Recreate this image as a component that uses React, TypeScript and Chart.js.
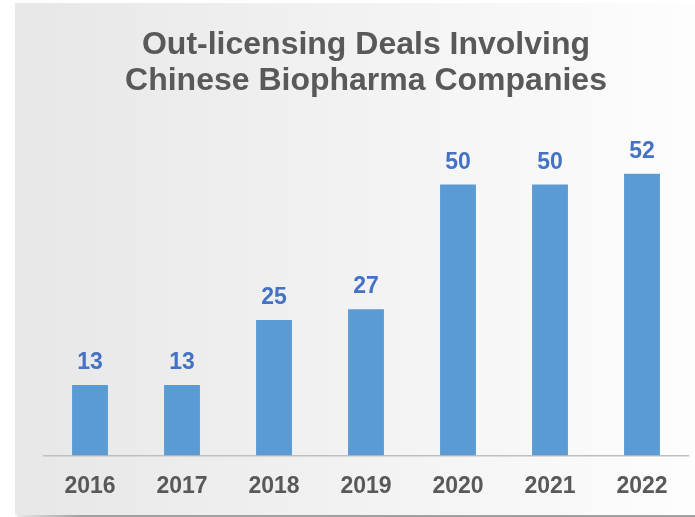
import React, { useEffect, useRef } from "react";
import { Chart, registerables } from "chart.js";

Chart.register(...registerables);

const years = ["2016", "2017", "2018", "2019", "2020", "2021", "2022"];
const deals = [13, 13, 25, 27, 50, 50, 52];
const titleLines = ["Out-licensing Deals Involving", "Chinese Biopharma Companies"];

const FONT = "'Liberation Sans', Arial, sans-serif";

const backgroundPlugin = {
  id: "panelBg",
  beforeDraw(chart: any) {
    const { ctx, width, height } = chart;
    ctx.save();
    ctx.fillStyle = "#ffffff";
    ctx.fillRect(0, 0, width, height);
    const g = ctx.createLinearGradient(15, 0, width, 0);
    g.addColorStop(0, "#e7e7e7");
    g.addColorStop(1, "#fdfdfd");
    ctx.fillStyle = g;
    ctx.fillRect(15, 3, width - 15, 512);
    const s = ctx.createLinearGradient(15, 0, 80, 0);
    s.addColorStop(0, "rgba(150,150,150,0.2)");
    s.addColorStop(1, "rgba(150,150,150,0.9)");
    ctx.fillStyle = s;
    ctx.fillRect(17, 515, width - 17, 2);
    ctx.restore();
  },
};

const valueLabelPlugin = {
  id: "valueLabels",
  afterDatasetsDraw(chart: any) {
    const { ctx } = chart;
    const meta = chart.getDatasetMeta(0);
    const data = chart.data.datasets[0].data;
    ctx.save();
    ctx.font = `bold 23px ${FONT}`;
    ctx.fillStyle = "#4472C4";
    ctx.textAlign = "center";
    ctx.textBaseline = "alphabetic";
    meta.data.forEach((bar: any, i: number) => {
      ctx.fillText(String(data[i]), bar.x, bar.y - 16);
    });
    ctx.restore();
  },
};

export default function App() {
  const ref = useRef<HTMLCanvasElement>(null);
  useEffect(() => {
    document.body.style.margin = "0";
    const chart = new Chart(ref.current!, {
      type: "bar",
      data: {
        labels: years,
        datasets: [
          {
            data: deals,
            backgroundColor: "#5B9BD5",
            categoryPercentage: 1,
            barPercentage: 0.39,
          },
        ],
      },
      options: {
        responsive: false,
        animation: false,
        layout: { padding: { left: 44, right: 7, top: 0, bottom: 0 } },
        plugins: {
          legend: { display: false },
          tooltip: { enabled: false },
          title: {
            display: true,
            text: titleLines,
            color: "#595959",
            font: { family: FONT, size: 32, weight: "bold", lineHeight: 1.1 },
            padding: { top: 28, bottom: 32 },
          },
        },
        scales: {
          x: {
            grid: { display: false, drawTicks: false },
            border: { display: true, color: "#BFBFBF", width: 1.5 },
            ticks: {
              color: "#595959",
              font: { family: FONT, size: 23, weight: "bold" },
              padding: 17,
              maxRotation: 0,
            },
          },
          y: { display: false, min: 0, max: 60 },
        },
      },
      plugins: [backgroundPlugin, valueLabelPlugin],
    });
    return () => chart.destroy();
  }, []);
  return <canvas ref={ref} width={695} height={517} style={{ display: "block" }} />;
}
